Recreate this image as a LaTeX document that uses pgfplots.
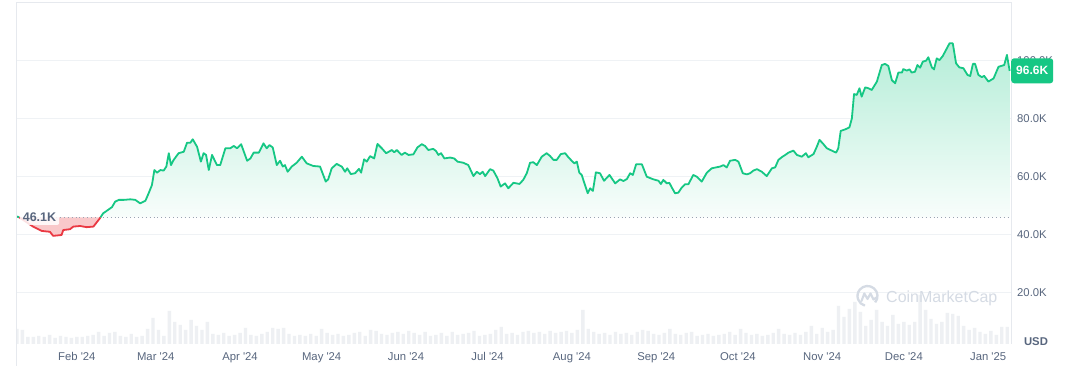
\documentclass[border=0pt]{standalone}
\usepackage{pgfplots}
\pgfplotsset{compat=1.18}
\usepackage{pgfplotstable}
\usepackage{fontspec}
\setmainfont{Liberation Sans}
\definecolor{cmcgreen}{HTML}{16C784}
\definecolor{cmcred}{HTML}{EA3943}
\definecolor{gridc}{HTML}{EFF2F5}
\definecolor{framec}{HTML}{E6E9EE}
\definecolor{labc}{HTML}{58667E}
\definecolor{volc}{HTML}{EEF0F3}
\definecolor{wmc}{HTML}{D5DBE4}
\definecolor{dotc}{HTML}{9AA3B2}

% day index: 0 = 10 Jan 2024 ; price in thousands USD
\pgfplotstableread{
d p
0.8 46.1
2.9 44.8
5.9 42.9
9.1 41.4
12.1 41.1
13.3 39.7
16.4 40.0
17.0 41.7
19.5 42.0
20.7 42.9
23.2 43.1
25.6 42.7
28.1 42.9
30.5 45.8
30.7 46.1
}\redtab

\pgfplotstableread{
d p
30.7 46.1
31.7 47.5
33.1 48.4
34.9 49.6
36.1 51.5
37.4 52.1
39.2 52.1
41.7 52.3
43.5 52.1
45.3 50.9
47.2 51.8
48.4 54.4
49.6 57.2
50.5 62.4
51.5 61.5
52.7 62.4
53.9 62.2
54.9 63.6
55.8 68.2
56.6 64.1
57.6 65.9
59.4 68.2
61.3 68.7
62.5 71.8
63.7 71.8
64.6 73.0
66.2 70.4
67.6 65.3
68.6 68.2
69.5 67.6
70.5 62.4
71.7 67.6
73.5 64.1
74.7 64.1
76.6 69.9
78.4 69.9
79.7 70.7
80.9 69.9
82.4 71.3
84.6 65.6
85.8 66.4
87.0 68.4
88.9 68.4
90.6 71.6
91.8 69.9
92.8 71.0
94.0 70.2
95.5 64.1
96.7 65.6
97.7 63.6
98.5 64.1
99.5 61.8
101.0 63.6
102.8 64.9
104.7 67.0
106.5 64.7
108.9 63.8
111.4 63.6
113.5 58.4
114.4 59.2
115.7 63.0
117.5 64.5
119.4 63.6
120.6 61.8
121.4 63.0
122.7 61.0
124.3 61.3
125.7 62.8
126.5 61.5
127.6 66.1
128.6 65.3
129.8 67.2
131.3 66.4
132.5 71.4
134.1 69.9
135.7 68.2
137.8 69.3
138.7 68.5
139.6 69.3
141.4 67.6
142.6 68.4
143.9 67.6
145.7 67.8
147.2 70.2
148.8 71.3
150.0 70.7
151.2 69.3
153.0 69.7
154.0 69.0
154.9 67.6
155.9 68.2
157.1 66.4
159.2 66.7
160.7 66.4
161.9 65.3
164.1 64.9
165.9 64.1
167.8 60.3
169.0 61.8
170.2 61.0
171.2 61.8
172.1 60.3
173.9 62.7
175.1 62.2
176.6 59.6
177.8 56.7
179.4 57.8
180.6 56.1
182.5 58.0
184.7 57.6
186.1 59.0
187.4 61.3
188.6 64.9
189.8 65.1
191.1 64.1
192.9 67.0
194.7 68.2
196.0 67.2
197.2 65.9
198.4 65.9
199.9 67.9
201.5 68.2
202.7 66.8
203.9 65.6
204.9 64.7
205.8 65.3
206.7 61.5
207.6 60.7
208.8 57.2
209.8 54.4
210.7 56.1
211.7 55.2
212.8 61.6
214.3 61.3
215.8 58.7
217.8 60.7
219.9 57.8
221.7 59.2
222.9 58.6
224.2 59.3
225.4 61.3
226.4 60.7
227.6 64.4
229.7 64.4
231.5 60.1
233.9 59.2
235.8 58.7
236.7 57.6
237.6 59.0
238.9 57.8
239.8 58.0
240.7 56.4
241.9 54.4
243.1 54.6
244.4 56.4
245.6 57.5
246.8 57.5
248.6 60.7
249.9 60.1
251.7 58.4
253.6 61.5
255.4 63.0
258.5 63.6
259.7 64.1
260.9 63.3
262.1 65.6
264.0 65.9
265.2 65.3
266.8 61.3
268.3 60.9
269.5 61.3
270.7 62.2
272.0 62.7
273.8 61.8
275.6 60.3
277.5 63.0
278.7 63.3
279.9 65.9
281.1 66.8
282.4 67.6
283.6 68.4
285.4 69.1
286.7 67.6
288.5 67.0
290.0 68.2
290.9 66.8
292.8 67.9
294.0 70.4
295.0 72.8
296.2 71.6
297.7 69.9
299.5 69.1
301.1 68.4
301.9 69.9
302.8 75.9
304.4 76.4
306.0 77.1
306.9 80.2
307.7 88.6
308.7 88.3
309.7 90.6
310.5 87.7
311.8 90.9
313.0 90.6
314.2 90.0
316.1 92.9
317.9 98.6
319.1 99.0
320.3 98.3
321.6 93.4
322.8 92.3
324.0 96.0
325.3 96.0
325.8 97.2
327.1 96.7
328.1 97.1
328.9 96.0
330.1 96.3
331.0 98.6
332.0 97.7
333.0 99.8
334.2 100.1
335.0 101.3
336.3 97.8
337.1 97.1
338.1 100.9
339.1 100.3
340.3 101.7
341.5 103.8
342.8 106.1
344.0 106.1
345.2 99.2
346.4 97.8
347.9 97.5
349.4 95.2
350.4 94.8
351.4 99.0
352.2 99.0
353.4 95.2
354.7 94.4
355.5 94.9
357.1 92.9
359.0 94.0
360.8 98.0
362.9 98.6
363.9 102.1
364.9 96.6
}\greentab

% volume (relative bar height)
\pgfplotstableread{
d h
0 15
2 14
4 7
6 7
8 8
10 7
12 9
14 6
16 8
18 7
20 6
22 7
24 7
26 8
28 9
30 12
32 8
34 11
36 12
38 8
40 7
42 10
44 7
46 8
48 15
50 26
52 14
54 8
56 33
58 22
60 19
62 14
64 24
66 18
68 14
70 22
72 10
74 9
76 11
78 8
80 9
82 11
84 16
86 9
88 8
90 10
92 12
94 16
96 15
98 16
100 10
102 8
104 9
106 8
108 10
110 8
112 15
114 11
116 9
118 10
120 8
122 9
124 11
126 12
128 8
130 14
132 13
134 10
136 9
138 11
140 12
142 10
144 13
146 11
148 9
150 12
152 8
154 9
156 11
158 8
160 12
162 9
164 10
166 11
168 13
170 8
172 9
174 10
176 14
178 17
180 10
182 11
184 9
186 12
188 13
190 11
192 12
194 10
196 13
198 11
200 12
202 13
204 11
206 14
208 34
210 15
212 12
214 10
216 11
218 9
220 12
222 10
224 11
226 9
228 12
230 14
232 13
234 10
236 9
238 11
240 15
242 10
244 9
246 11
248 12
250 8
252 9
254 10
256 8
258 9
260 10
262 12
264 9
266 15
268 11
270 9
272 10
274 8
276 9
278 11
280 15
282 10
284 9
286 11
288 9
290 12
292 18
294 10
296 16
298 12
300 14
302 38
304 27
306 35
308 42
310 32
312 18
314 24
316 34
318 22
320 18
322 29
324 20
326 22
328 19
330 22
332 49
334 34
336 25
338 20
340 22
342 31
344 30
346 28
348 18
350 14
352 16
354 12
356 10
358 13
360 9
362 17
364 17
}\voltab

\begin{document}
\begin{tikzpicture}[x=1pt,y=1pt]
\useasboundingbox (0,0) rectangle (1069,366);
\fill[white] (0,0) rectangle (1069,366);
\draw[framec, line width=1pt] (16.5,0) -- (16.5,363.5) -- (1011,363.5) -- (1011,22);

% volume panel
\begin{axis}[at={(17pt,22pt)}, anchor=south west, scale only axis,
  width=994pt, height=341pt, xmin=0, xmax=365.4, ymin=0, ymax=341,
  axis lines=none]
\addplot[ybar, bar width=3.4pt, fill=volc, draw=none] table[x=d,y=h] {\voltab};
\end{axis}

% price panel
\begin{axis}[at={(17pt,22pt)}, anchor=south west, scale only axis,
  width=994pt, height=341pt, xmin=0, xmax=365.4, ymin=2.41, ymax=120,
  axis line style={draw=none}, tick style={draw=none}, major tick length=0pt,
  xtick={22,51,82,112,143,173,204,235,265,296,326,357},
  xticklabels={Feb \textquotesingle24, Mar \textquotesingle24, Apr \textquotesingle24, May \textquotesingle24, Jun \textquotesingle24, Jul \textquotesingle24, Aug \textquotesingle24, Sep \textquotesingle24, Oct \textquotesingle24, Nov \textquotesingle24, Dec \textquotesingle24, Jan \textquotesingle25},
  ytick={20,40,60,80,100},
  yticklabels={20.0K,40.0K,60.0K,80.0K,100.0K},
  yticklabel pos=right,
  ymajorgrids, grid style={gridc, line width=1pt},
  tick label style={font=\fontsize{11.3}{13}\selectfont, text=labc},
  yticklabel style={anchor=west, inner sep=0pt, xshift=6pt},
  xticklabel style={anchor=base, inner sep=0pt, yshift=-17pt},
]
\addplot[fill=cmcred!28!white, draw=none] table[x=d,y=p] {\redtab} -- cycle;
\addplot[top color=cmcgreen!32!white, bottom color=cmcgreen!3!white, draw=none] table[x=d,y=p] {\greentab} -- (axis cs:364.9,46.1) -- cycle;
\addplot[dotc, line width=0.9pt, dash pattern=on 0.9pt off 3pt] coordinates {(0,46.1) (365.4,46.1)};
\addplot[cmcgreen, line width=1.8pt, line join=round] coordinates {(0,46.4) (0.8,46.1)};
\addplot[cmcred, line width=1.8pt, line join=round] table[x=d,y=p] {\redtab};
\addplot[cmcgreen, line width=1.8pt, line join=round] table[x=d,y=p] {\greentab};
\end{axis}

% annotations
\node[fill=white, fill opacity=0.85, text opacity=1, rounded corners=2pt,
  inner xsep=3pt, inner ysep=3pt, text=labc, font=\fontsize{12.5}{14}\selectfont\bfseries]
  at (39.5,148.5) {46.1K};
\node[fill=cmcgreen, rounded corners=3pt, text=white, anchor=west,
  minimum width=42pt, minimum height=25pt, inner sep=0pt,
  font=\fontsize{12}{14}\selectfont\bfseries] at (1011,295.2) {96.6K};
\node[text=labc, font=\fontsize{11.3}{13}\selectfont\bfseries] at (1036,24) {USD};
% watermark
\draw[wmc, line width=2.3pt] (867.5,70) ++(-40:10) arc (-40:255:10);
\draw[wmc, line width=2.1pt, line join=round, line cap=round] (861.5,65) -- (864.3,72.5) -- (867.5,67) -- (870.5,72.5) -- (873.5,66.5) -- (876.5,68.5);
\node[anchor=base west, inner sep=0pt, text=wmc, font=\fontsize{16}{18}\selectfont] at (886,63) {CoinMarketCap};
\end{tikzpicture}
\end{document}
